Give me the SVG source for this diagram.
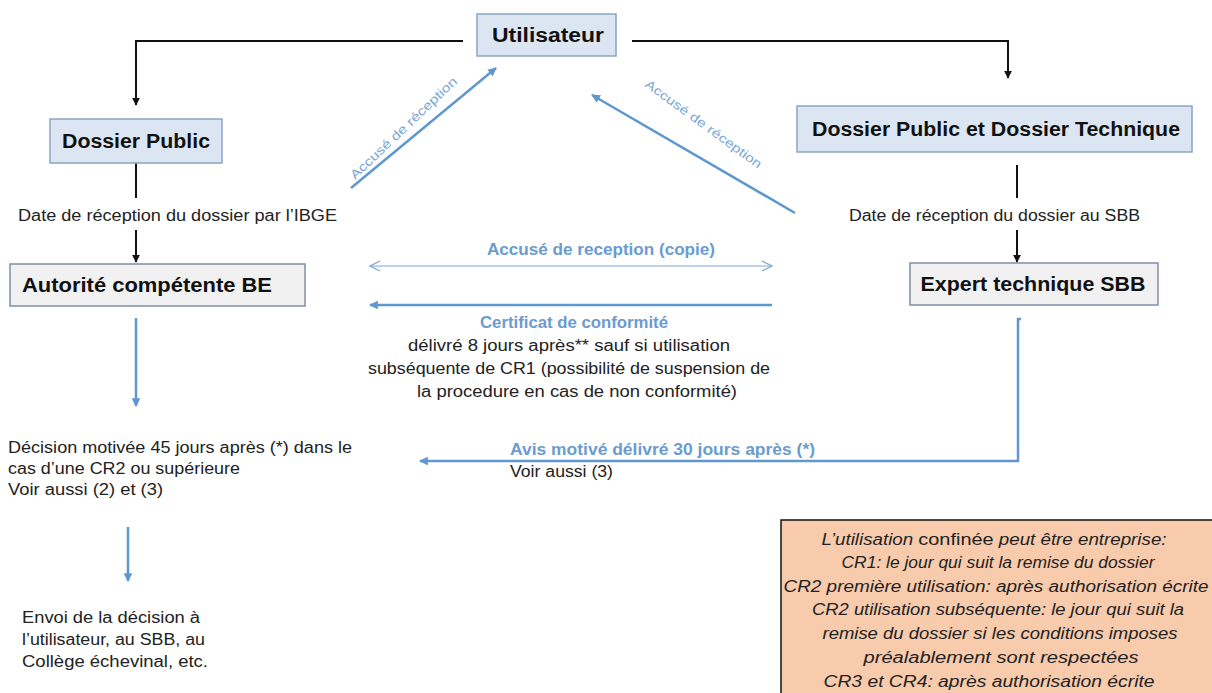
<svg xmlns="http://www.w3.org/2000/svg" width="1212" height="693" viewBox="0 0 1212 693">
<defs>
<style>
.t{font-family:"Liberation Sans",Arial,sans-serif;font-size:16px;fill:#222}
.b{font-family:"Liberation Sans",Arial,sans-serif;font-size:20px;font-weight:bold;fill:#111}
.bl{font-family:"Liberation Sans",Arial,sans-serif;font-size:16px;font-weight:bold;fill:#6b9bcf}
.dg{font-family:"Liberation Sans",Arial,sans-serif;font-size:12.5px;fill:#7aa6d6}
.it{font-family:"Liberation Sans",Arial,sans-serif;font-size:16px;font-style:italic;fill:#222}
.bx{fill:#dce6f2;stroke:#8aa4c4;stroke-width:1.5}
.gx{fill:#f1f1f1;stroke:#7f8ea3;stroke-width:1.5}
.k{fill:none;stroke:#111;stroke-width:2}
.u{fill:none;stroke:#5f97cf;stroke-width:2.5}
.u1{fill:none;stroke:#7ea8d6;stroke-width:1.2}
</style>
<marker id="ak" viewBox="0 0 10 10" refX="9" refY="5" markerWidth="4" markerHeight="4" orient="auto"><path d="M0,0 L10,5 L0,10 z" fill="#111"/></marker>
<marker id="au" viewBox="0 0 10 10" refX="9" refY="5" markerWidth="3.5" markerHeight="3.5" orient="auto"><path d="M0,0 L10,5 L0,10 z" fill="#5f97cf"/></marker>
<marker id="ao" viewBox="0 0 12 12" refX="11" refY="6" markerWidth="12" markerHeight="12" markerUnits="userSpaceOnUse" orient="auto-start-reverse"><path d="M1,1 L11,6 L1,11" fill="none" stroke="#7ea8d6" stroke-width="1.2"/></marker>
</defs>
<rect width="1212" height="693" fill="#fff"/>

<g id="connectors">
<path class="k" d="M463,41 H136 V105" marker-end="url(#ak)"/>
<path class="k" d="M632,41 H1008 V78" marker-end="url(#ak)"/>
<path class="k" d="M136,163 V198"/>
<path class="k" d="M136,230 V262" marker-end="url(#ak)"/>
<path class="k" d="M1017,165 V198"/>
<path class="k" d="M1017,230 V262" marker-end="url(#ak)"/>
<path class="u" d="M136,318 V406" marker-end="url(#au)"/>
<path class="u" d="M128,527 V581" marker-end="url(#au)"/>
<path class="u" d="M1021,319 H1018 V461 H420" marker-end="url(#au)"/>
<path class="u" d="M351,188 L496,68" marker-end="url(#au)"/>
<path class="u" d="M795,213 L592,95" marker-end="url(#au)"/>
<path class="u1" d="M370,266 H772" marker-start="url(#ao)" marker-end="url(#ao)"/>
<path class="u" d="M772,305 H370" marker-end="url(#au)"/>
</g>

<g id="utilisateur">
<rect class="bx" x="477" y="14" width="139" height="42"/>
<text class="b" x="548" y="42" text-anchor="middle" textLength="112" lengthAdjust="spacingAndGlyphs">Utilisateur</text>
</g>

<g id="dossier-public">
<rect class="bx" x="50" y="119" width="172" height="44"/>
<text class="b" x="136" y="148" text-anchor="middle" textLength="148" lengthAdjust="spacingAndGlyphs">Dossier Public</text>
</g>

<g id="dossier-technique">
<rect class="bx" x="797" y="106" width="395" height="46"/>
<text class="b" x="996" y="136" text-anchor="middle" textLength="368" lengthAdjust="spacingAndGlyphs">Dossier Public et Dossier Technique</text>
</g>

<g id="autorite">
<rect class="gx" x="10" y="264" width="295" height="42"/>
<text class="b" x="22" y="292" textLength="250" lengthAdjust="spacingAndGlyphs">Autorité compétente BE</text>
</g>

<g id="expert">
<rect class="gx" x="910" y="263" width="248" height="42"/>
<text class="b" x="1033" y="291" text-anchor="middle" textLength="225" lengthAdjust="spacingAndGlyphs">Expert technique SBB</text>
</g>

<g id="labels">
<text class="t" x="18" y="221" textLength="319" lengthAdjust="spacingAndGlyphs">Date de réception du dossier par l’IBGE</text>
<text class="t" x="849" y="221" textLength="291" lengthAdjust="spacingAndGlyphs">Date de réception du dossier au SBB</text>
<text class="bl" x="601" y="255" text-anchor="middle" textLength="228" lengthAdjust="spacingAndGlyphs">Accusé de reception (copie)</text>
<text class="bl" x="574" y="328" text-anchor="middle" textLength="188" lengthAdjust="spacingAndGlyphs">Certificat de conformité</text>
<text class="t" x="569" y="351" text-anchor="middle" textLength="322" lengthAdjust="spacingAndGlyphs">délivré 8 jours après** sauf si utilisation</text>
<text class="t" x="569" y="374" text-anchor="middle" textLength="402" lengthAdjust="spacingAndGlyphs">subséquente de CR1 (possibilité de suspension de</text>
<text class="t" x="577" y="397" text-anchor="middle" textLength="320" lengthAdjust="spacingAndGlyphs">la procedure en cas de non conformité)</text>
<text class="bl" x="510" y="455" textLength="305" lengthAdjust="spacingAndGlyphs">Avis motivé délivré 30 jours après (*)</text>
<text class="t" x="510" y="477" textLength="103" lengthAdjust="spacingAndGlyphs">Voir aussi (3)</text>
<text class="t" x="8" y="453" textLength="344" lengthAdjust="spacingAndGlyphs">Décision motivée 45 jours après (*) dans le</text>
<text class="t" x="8" y="474" textLength="232" lengthAdjust="spacingAndGlyphs">cas d’une CR2 ou supérieure</text>
<text class="t" x="8" y="495" textLength="155" lengthAdjust="spacingAndGlyphs">Voir aussi (2) et (3)</text>
<text class="t" x="22" y="623" textLength="178" lengthAdjust="spacingAndGlyphs">Envoi de la décision à</text>
<text class="t" x="22" y="645" textLength="183" lengthAdjust="spacingAndGlyphs">l’utilisateur, au SBB, au</text>
<text class="t" x="22" y="667" textLength="186" lengthAdjust="spacingAndGlyphs">Collège échevinal, etc.</text>
<text class="dg" transform="translate(355,180) rotate(-43.5)" textLength="142" lengthAdjust="spacingAndGlyphs">Accusé de réception</text>
<text class="dg" transform="translate(644,86) rotate(36)" textLength="141" lengthAdjust="spacingAndGlyphs">Accusé de réception</text>
</g>

<g id="note">
<rect x="781" y="520" width="440" height="190" fill="#f8cbad" stroke="#111" stroke-width="1.5"/>
<text class="it" x="994" y="545" text-anchor="middle" textLength="345" lengthAdjust="spacingAndGlyphs">L’utilisation <tspan font-style="normal" font-size="17">confinée</tspan> peut être entreprise:</text>
<text class="it" x="998" y="568" text-anchor="middle" textLength="313" lengthAdjust="spacingAndGlyphs">CR1: le jour qui suit la remise du dossier</text>
<text class="it" x="996" y="592" text-anchor="middle" textLength="425" lengthAdjust="spacingAndGlyphs">CR2 première utilisation: après authorisation écrite</text>
<text class="it" x="998" y="615" text-anchor="middle" textLength="372" lengthAdjust="spacingAndGlyphs">CR2 utilisation subséquente: le jour qui suit la</text>
<text class="it" x="1000" y="639" text-anchor="middle" textLength="355" lengthAdjust="spacingAndGlyphs">remise du dossier si les conditions imposes</text>
<text class="it" x="1001" y="663" text-anchor="middle" textLength="275" lengthAdjust="spacingAndGlyphs">préalablement sont respectées</text>
<text class="it" x="989" y="687" text-anchor="middle" textLength="331" lengthAdjust="spacingAndGlyphs">CR3 et CR4: après authorisation écrite</text>
</g>
</svg>
